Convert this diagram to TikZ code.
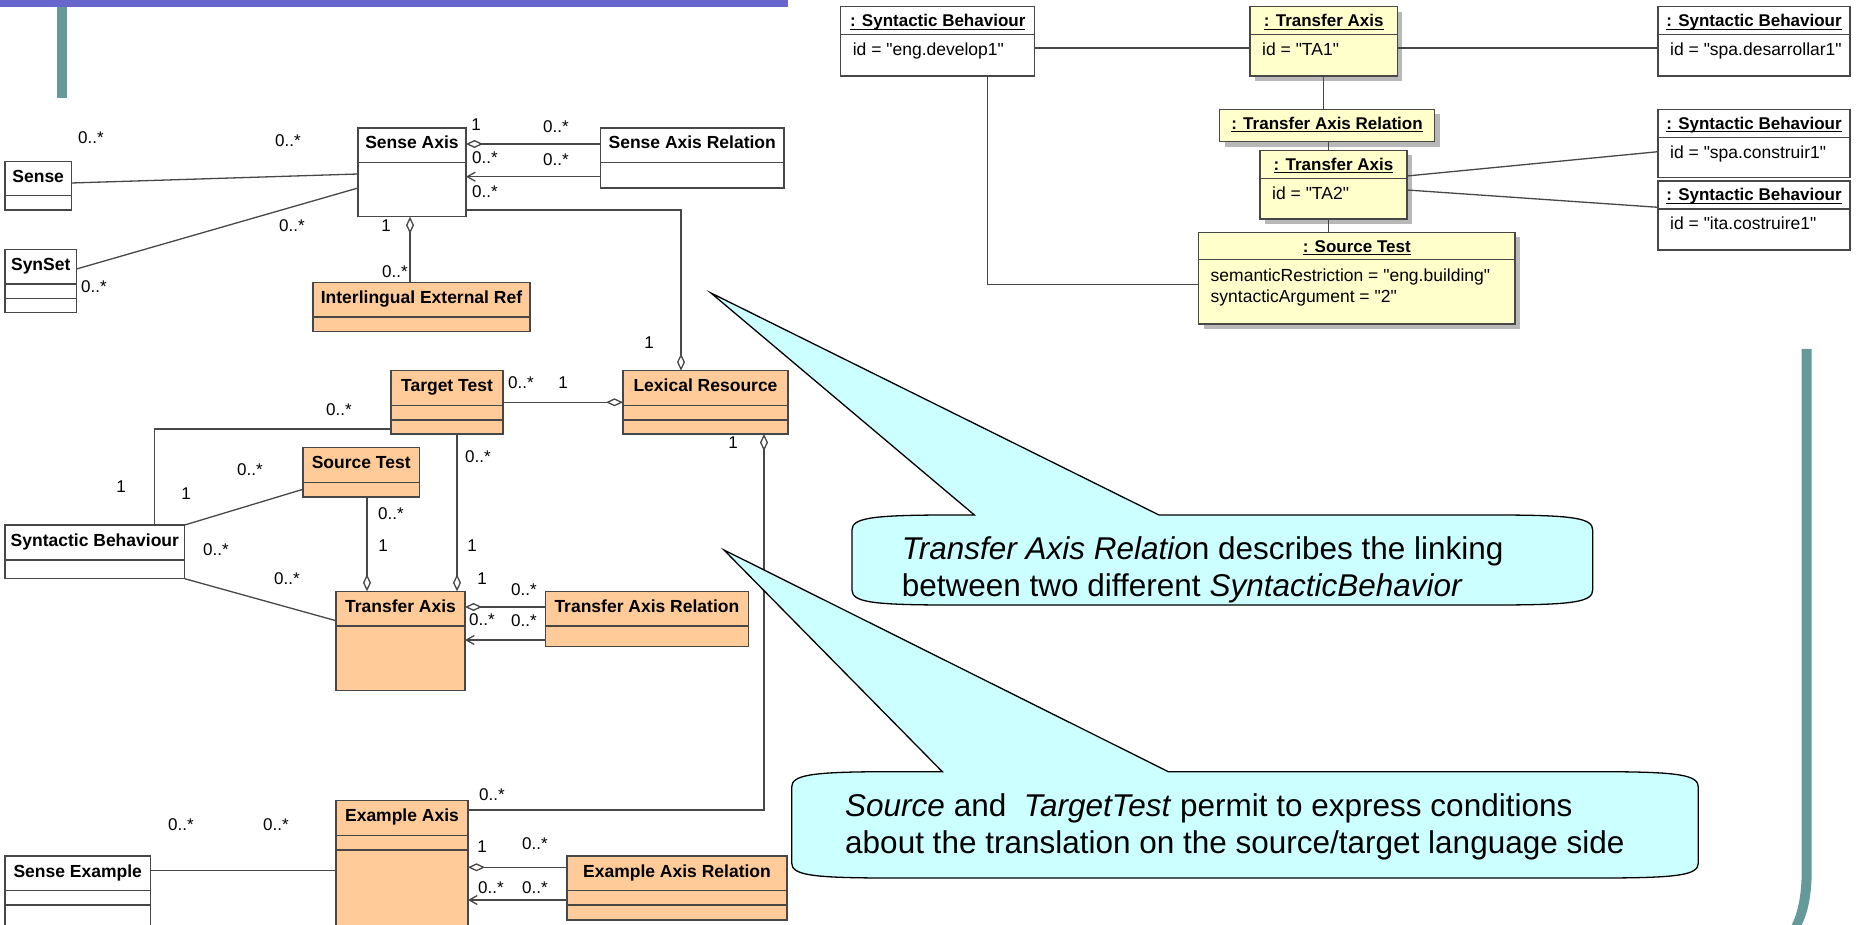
\documentclass[tikz,border=0pt]{standalone}
\usepackage{fontspec}
\setmainfont{Liberation Sans}[Ligatures=TeXOff]
\usetikzlibrary{arrows.meta,calc,shadows}

\definecolor{umlline}{HTML}{474747}
\definecolor{classfill}{HTML}{FFCC99}
\definecolor{objfill}{HTML}{FFFFCC}
\definecolor{notefill}{HTML}{CCFFFF}
\definecolor{barteal}{HTML}{669999}
\definecolor{barpurple}{HTML}{6666CC}

% underlined object name
\newcommand\objname[1]{\setbox0\hbox{#1}\rlap{\rule[-3.2pt]{\wd0}{1.3pt}}\box0}

% class box: name, x, y, width, height, fill, title, divider offsets
\newcommand\umlclass[8]{%
  \node[box, fill=#6, minimum width=#4pt, minimum height=#5pt] (#1) at (#2,#3) {};
  \node[ttl, anchor=base] (#1-title) at ([yshift=-21pt]#1.north) {#7};
  \foreach \d in {#8} {\draw[conn] ([yshift=-\d pt]#1.north west) -- ([yshift=-\d pt]#1.north east);}
}

% object box: name, x, y, width, height, style, title
\newcommand\umlobject[7]{%
  \node[box, #6, minimum width=#4pt, minimum height=#5pt] (#1) at (#2,#3) {};
  \node[otitle, anchor=base] (#1-title) at ([yshift=-20pt]#1.north) {\objname{#7}};
}

\begin{document}
\begin{tikzpicture}[x=1pt, y=-1pt,
  box/.style={draw=umlline, line width=1.3pt, inner sep=0pt, outer sep=0pt, anchor=north west},
  ttl/.style={font=\fontsize{17.5}{20}\selectfont\bfseries, inner sep=0pt},
  otitle/.style={font=\fontsize{17}{20}\selectfont\bfseries, inner sep=0pt},
  attr/.style={font=\fontsize{17.5}{20}\selectfont, inner sep=0pt, anchor=base west},
  mult/.style={font=\fontsize{17}{20}\selectfont, inner sep=0pt},
  conn/.style={draw=umlline, line width=1.3pt},
  agg/.style={conn, -{Diamond[open, length=17pt, width=8pt]}},
  nav/.style={conn, -{Straight Barb[length=8pt, width=9pt]}},
  shadowed/.style={drop shadow={shadow xshift=5pt, shadow yshift=-5pt, fill=black!28, opacity=1}},
  objbox/.style={fill=objfill, shadowed},
  plainobj/.style={fill=white},
  note/.style={draw=black, line width=1.3pt, fill=notefill, line join=miter},
  notetext/.style={font=\fontsize{31.5}{37}\selectfont, inner sep=0pt, anchor=base west}
]
\useasboundingbox (0,0) rectangle (1861,925);
\clip (0,0) rectangle (1861,925);

% slide decoration
\fill[barpurple] (0,0) rectangle (788,7);
\fill[barteal] (57,7) rectangle (67,98);
\fill[barteal] (1801.7,349) -- (1811.7,349) -- (1811.7,870)
  .. controls (1811.7,895) and (1808,912) .. (1801.7,925) -- (1791.7,925)
  .. controls (1798,912) and (1801.7,895) .. (1801.7,870) -- cycle;

% ---------------- class diagram ----------------
\umlclass{Sense}{5}{161.3}{66.4}{48.7}{white}{Sense}{34.4}
\umlclass{SynSet}{5}{249.3}{71.5}{63.4}{white}{SynSet}{34.7,49}
\umlclass{SA}{358}{128}{108}{88.7}{white}{Sense Axis}{34.7}
\umlclass{SAR}{600.5}{128}{183.5}{60}{white}{Sense Axis Relation}{34.7}
\umlclass{IER}{313}{282.7}{217}{49}{classfill}{Interlingual External Ref}{34.3}
\umlclass{TT}{391}{370.7}{112}{63.3}{classfill}{Target Test}{35,49.3}
\umlclass{LR}{623}{370.7}{165}{63.3}{classfill}{Lexical Resource}{35,49.3}
\umlclass{ST}{303}{447.7}{116.4}{49.3}{classfill}{Source Test}{35}
\umlclass{SB}{5}{525}{179.7}{53.7}{white}{Syntactic Behaviour}{35}
\umlclass{TA}{336}{591.3}{129}{99.4}{classfill}{Transfer Axis}{34.7}
\umlclass{TAR}{545.4}{591.3}{203}{55.4}{classfill}{Transfer Axis Relation}{34.7}
\umlclass{EA}{336}{800.7}{132}{140}{classfill}{Example Axis}{35,49.3}
\umlclass{EAR}{567}{856}{220}{64}{classfill}{Example Axis Relation}{34.7,49}
\umlclass{SE}{5}{856}{145.5}{100}{white}{Sense Example}{34.7,49}

% associations
\draw[agg] ([yshift=-16pt]SAR.north west) -- ([yshift=-16pt]SA.north east);
\draw[nav] ([yshift=-48.7pt]SAR.north west) -- ([yshift=-48.7pt]SA.north east);
\draw[conn] ([yshift=-21.7pt]Sense.north east) -- ([yshift=-46pt]SA.north west);
\draw[conn] ([yshift=-19.7pt]SynSet.north east) -- ([yshift=-60pt]SA.north west);
\draw[agg] ([xshift=-2pt]SA.south |- IER.north) -- ([xshift=-2pt]SA.south);
\draw[agg] ([yshift=-82pt]SA.north east) -| ([xshift=-24.5pt]LR.north);
\draw[agg] ([yshift=-31.6pt]TT.north east) -- ([yshift=-31.6pt]LR.north west);
\draw[conn] ([yshift=-58.3pt]TT.north west) -| ([xshift=-30pt]SB.north east);
\draw[conn] ([yshift=-41.6pt]ST.north west) -- (SB.north east);
\draw[agg] ([xshift=5.8pt]ST.south) -- ([xshift=5.8pt]ST.south |- TA.north);
\draw[agg] ([xshift=10pt]TT.south) -- ([xshift=10pt]TT.south |- TA.north);
\draw[conn] (SB.south east) -- ([yshift=-29.4pt]TA.north west);
\draw[agg] ([yshift=-15.7pt]TAR.north west) -- ([yshift=-15.7pt]TA.north east);
\draw[nav] ([yshift=-48.7pt]TAR.north west) -- ([yshift=-48.7pt]TA.north east);
\draw[agg] ([yshift=-9.3pt]EA.north east) -| ([xshift=58.5pt]LR.south);
\draw[conn] ([yshift=-14.7pt]SE.north east) -- ([yshift=-70pt]EA.north west);
\draw[agg] ([yshift=-11.3pt]EAR.north west) -- ([yshift=-11.3pt]EAR.north west -| EA.east);
\draw[nav] ([yshift=-44pt]EAR.north west) -- ([yshift=-44pt]EAR.north west -| EA.east);

% multiplicities
\foreach \x/\y/\t [count=\i] in {
  91/138/0..*, 288/141/0..*, 292/226/0..*, 94/287/0..*,
  476/125/1, 556/127/0..*, 485/158/0..*, 556/160/0..*, 485/192/0..*,
  386/226/1, 395/272/0..*, 649/343/1, 521/383/0..*, 563/383/1,
  339/410/0..*, 121/487/1, 250/470/0..*, 186/494/1,
  391/514/0..*, 383/546/1, 478/457/0..*, 472/546/1,
  216/550/0..*, 287/579/0..*, 482/579/1, 524/590/0..*, 482/620/0..*, 524/621/0..*,
  733/443/1, 492/795/0..*, 181/825/0..*, 276/825/0..*,
  482/847/1, 535/844/0..*, 491/888/0..*, 535/888/0..*}
  \node[mult] (m\i) at (\x,\y) {\t};

% ---------------- object diagram ----------------
\umlobject{SBa}{840.6}{6.7}{194.2}{69.3}{plainobj}{: Syntactic Behaviour}
\umlobject{TAa}{1250}{6.7}{147.4}{69.3}{objbox}{: Transfer Axis}
\umlobject{SBb}{1658}{6.7}{192}{69.3}{plainobj}{: Syntactic Behaviour}
\umlobject{REL}{1219.5}{109.3}{215}{32.4}{objbox}{: Transfer Axis Relation}
\umlobject{TAb}{1260}{150.3}{147}{68.7}{objbox}{: Transfer Axis}
\umlobject{OST}{1198.5}{232.3}{316.5}{91.7}{objbox}{: Source Test}
\umlobject{SBc}{1658}{109.3}{192}{68.4}{plainobj}{: Syntactic Behaviour}
\umlobject{SBd}{1658}{181}{192}{69}{plainobj}{: Syntactic Behaviour}

\foreach \o in {SBa,TAa,SBb,TAb,SBc,SBd}
  \draw[conn] ([yshift=-28pt]\o.north west) -- ([yshift=-28pt]\o.north east);
\draw[conn] ([yshift=-27.4pt]OST.north west) -- ([yshift=-27.4pt]OST.north east);

\node[attr] (SBa-id) at ([xshift=12pt, yshift=-49pt]SBa.north west) {id = "eng.develop1"};
\node[attr] (TAa-id) at ([xshift=12pt, yshift=-49pt]TAa.north west) {id = "TA1"};
\node[attr] (SBb-id) at ([xshift=12pt, yshift=-49pt]SBb.north west) {id = "spa.desarrollar1"};
\node[attr] (TAb-id) at ([xshift=12pt, yshift=-49pt]TAb.north west) {id = "TA2"};
\node[attr] (SBc-id) at ([xshift=12pt, yshift=-49pt]SBc.north west) {id = "spa.construir1"};
\node[attr] (SBd-id) at ([xshift=12pt, yshift=-49pt]SBd.north west) {id = "ita.costruire1"};
\node[attr] (OST-a1) at ([xshift=12pt, yshift=-49pt]OST.north west) {semanticRestriction = "eng.building"};
\node[attr] (OST-a2) at ([xshift=12pt, yshift=-70pt]OST.north west) {syntacticArgument = "2"};

% links
\draw[conn] ([yshift=-41.3pt]SBa.north east) -- ([yshift=-41.3pt]TAa.north west);
\draw[conn] ([yshift=-41.3pt]TAa.north east) -- ([yshift=-41.3pt]SBb.north west);
\draw[conn] (TAa.south) -- (TAa.south |- REL.north);
\draw[conn] ([xshift=1.4pt]REL.south) -- ([xshift=1.4pt]REL.south |- TAb.north);
\draw[conn] ([xshift=-5pt]TAb.south) -- ([xshift=-5pt]TAb.south |- OST.north);
\draw[conn] ([yshift=-25.7pt]TAb.north east) -- ([yshift=-42.4pt]SBc.north west);
\draw[conn] ([yshift=-39.7pt]TAb.north east) -- ([yshift=-26.3pt]SBd.north west);
\draw[conn] ([xshift=49.7pt]SBa.south) |- ([yshift=-52.4pt]OST.north west);

% ---------------- callouts ----------------
\coordinate (c1tip) at (711,293);
\filldraw[note] (852,530) .. controls (852,518) and (872,515.4) .. (940,515) -- (974.4,515)
  -- (c1tip) -- (1159,515) -- (1504,515) .. controls (1572.7,515.4) and (1592.7,518) .. (1592.7,530)
  -- (1592.7,590) .. controls (1592.7,602) and (1572.7,604.6) .. (1504,605) -- (940,605)
  .. controls (872,604.6) and (852,602) .. (852,590) -- cycle;
\node[notetext] (c1a) at (901.7,559) {\textit{Transfer Axis Relatio}n describes the linking};
\node[notetext] (c1b) at (901.7,596) {between two different \textit{SyntacticBehavior}};

\coordinate (c2tip) at (724,550);
\filldraw[note] (791.7,787) .. controls (791.7,775) and (811.7,772.1) .. (880,771.7) -- (942.3,771.7)
  -- (c2tip) -- (1168.3,771.7) -- (1610,771.7) .. controls (1678.3,772.1) and (1698.3,775) .. (1698.3,787)
  -- (1698.3,863) .. controls (1698.3,875) and (1678.3,877.6) .. (1610,878) -- (880,878)
  .. controls (811.7,877.6) and (791.7,875) .. (791.7,863) -- cycle;
\node[notetext] (c2a) at (845,816.7) {\textit{Source} and \ \textit{TargetTest} permit to express conditions};
\node[notetext] (c2b) at (845,853.3) {about the translation on the source/target language side};

\end{tikzpicture}
\end{document}
